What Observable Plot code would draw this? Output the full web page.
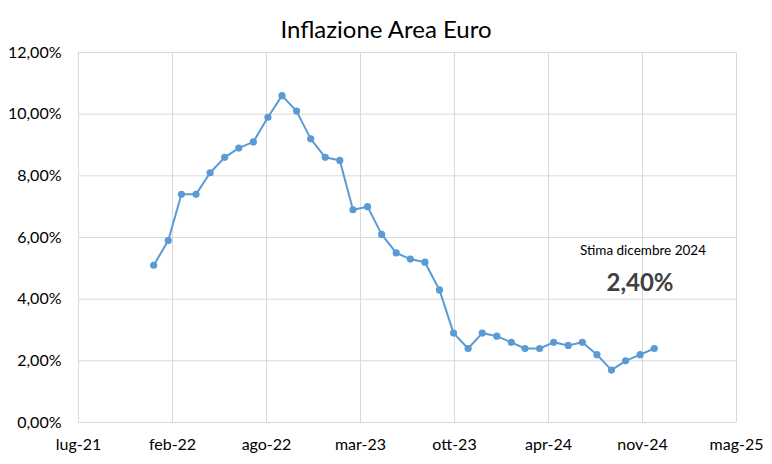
<!DOCTYPE html>
<html><head><meta charset="utf-8">
<script src="https://cdn.jsdelivr.net/npm/d3@7"></script>
<script src="https://cdn.jsdelivr.net/npm/@observablehq/plot@0.6"></script>
<style>
body{margin:0;background:#fff;font-family:Lato,"Open Sans",sans-serif}
#wrap{position:relative;width:772px;height:464px;overflow:hidden}
#title{position:absolute;left:0;top:13px;width:772px;text-align:center;font-size:24px;color:#000;line-height:32px}
#chart{position:absolute;left:0;top:30px}
#note1{position:absolute;left:543px;width:200px;top:242px;text-align:center;font-size:13.5px;color:#000}
#note2{position:absolute;left:540px;width:200px;top:267px;text-align:center;font-size:24px;font-weight:bold;color:#404040}
</style></head>
<body>
<div id="wrap">
  <div id="title">Inflazione Area Euro</div>
  <div id="chart"></div>
  <div id="note1">Stima dicembre 2024</div>
  <div id="note2">2,40%</div>
</div>
<script>
const months = ["2022-01","2022-02","2022-03","2022-04","2022-05","2022-06","2022-07","2022-08","2022-09","2022-10","2022-11","2022-12",
  "2023-01","2023-02","2023-03","2023-04","2023-05","2023-06","2023-07","2023-08","2023-09","2023-10","2023-11","2023-12",
  "2024-01","2024-02","2024-03","2024-04","2024-05","2024-06","2024-07","2024-08","2024-09","2024-10","2024-11","2024-12"];
const inflation = [5.1,5.9,7.4,7.4,8.1,8.6,8.9,9.1,9.9,10.6,10.1,9.2,
  8.6,8.5,6.9,7.0,6.1,5.5,5.3,5.2,4.3,2.9,2.4,2.9,
  2.8,2.6,2.4,2.4,2.6,2.5,2.6,2.2,1.7,2.0,2.2,2.4];
const xTickLabels = ["lug-21","feb-22","ago-22","mar-23","ott-23","apr-24","nov-24","mag-25"];
const xAxisStart = "2021-07-25";
const xTickStepDays = 200;
const yTicks = [0,2,4,6,8,10,12];

const data = months.map((m,i)=>({date:new Date(m+"-01T00:00:00Z"), value:inflation[i]}));
const start = new Date(xAxisStart+"T00:00:00Z");
const tickDates = xTickLabels.map((_,i)=>new Date(+start + i*xTickStepDays*864e5));
const labelByTime = new Map(tickDates.map((d,i)=>[+d, xTickLabels[i]]));
const fmtY = d => d.toFixed(2).replace(".", ",") + "%";

const chart = Plot.plot({
  width: 772, height: 434,
  marginTop: 22, marginBottom: 42, marginLeft: 78, marginRight: 36,
  style: {fontFamily: "Lato, 'Open Sans', sans-serif", fontSize: "16px", color: "#000", background: "transparent", overflow: "visible"},
  x: {type: "utc", domain: [tickDates[0], tickDates[tickDates.length-1]]},
  y: {domain: [0, 12]},
  marks: [
    Plot.gridX(tickDates, {stroke: "#d9d9d9", strokeOpacity: 1, strokeWidth: 1}),
    Plot.gridY(yTicks, {stroke: "#d9d9d9", strokeOpacity: 1, strokeWidth: 1}),
    Plot.axisX(tickDates, {tickSize: 0, tickPadding: 16, tickFormat: d => labelByTime.get(+d), fontSize: 16, label: null}),
    Plot.axisY(yTicks, {tickSize: 0, tickPadding: 17, tickFormat: fmtY, fontSize: 16, label: null}),
    Plot.line(data, {x: "date", y: "value", stroke: "#5b9bd5", strokeWidth: 2}),
    Plot.dot(data, {x: "date", y: "value", r: 3.6, fill: "#5b9bd5", stroke: "none"})
  ]
});
document.getElementById("chart").appendChild(chart);
</script>
</body></html>
